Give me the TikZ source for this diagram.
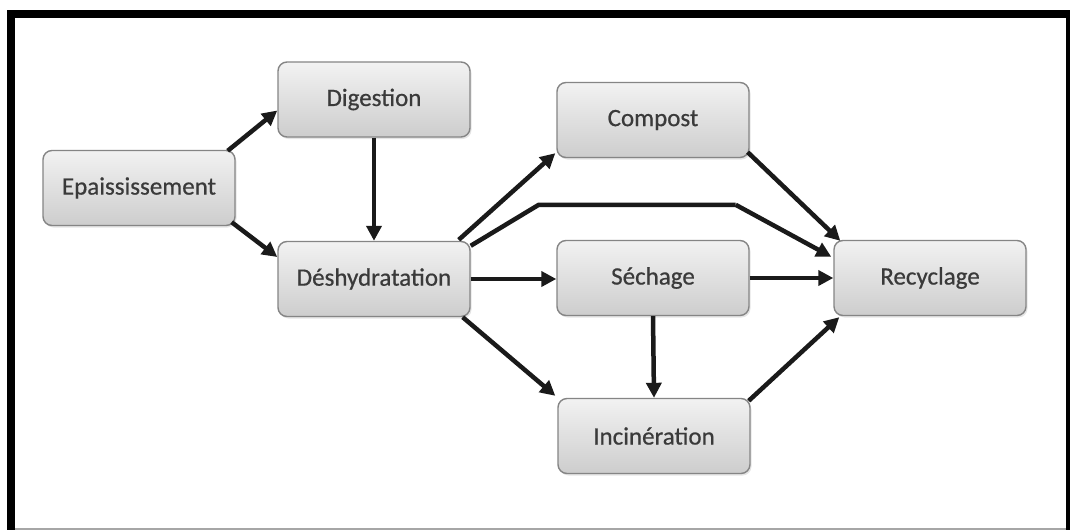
\documentclass[tikz,border=0pt]{standalone}
\usepackage{fontspec}
\setmainfont{Carlito}
\newfontfamily\boxfont[FakeBold=0.6]{Carlito}
\usetikzlibrary{arrows.meta,calc,shadows}
\definecolor{txt}{HTML}{3A3A3A}
\definecolor{arrc}{HTML}{1A1A1A}
\definecolor{boxtop}{HTML}{F2F2F2}
\definecolor{boxbot}{HTML}{CDCDCD}
\definecolor{boxline}{HTML}{858585}
\tikzset{
  procbox/.style={draw=boxline, line width=1.4pt, rounded corners=9pt,
    top color=boxtop, bottom color=boxbot,
    minimum width=192pt, minimum height=75pt, inner sep=0pt,
    text=txt, font=\boxfont\fontsize{25}{30}\selectfont,
    drop shadow={opacity=0.2, shadow xshift=1.5pt, shadow yshift=-2pt}},
  arr/.style={draw=arrc, line width=4.5pt, -{Triangle[length=15pt,width=15pt]}}
}
\begin{document}
\begin{tikzpicture}[x=1pt,y=-1pt]
\useasboundingbox (0,0) rectangle (1070,530);
\fill[white] (0,0) rectangle (1070,530);
\fill[black] (7,10) rectangle (1070,530);
\fill[white] (15,18) rectangle (1066,528);
\fill[gray!70] (15,528) rectangle (1066,530);

\node[procbox] (epa) at (139,188) {Epaississement};
\node[procbox] (dig) at (374,99.5) {Digestion};
\node[procbox] (des) at (374,279) {Déshydratation};
\node[procbox] (com) at (653,120) {Compost};
\node[procbox] (sec) at (653,278) {Séchage};
\node[procbox] (rec) at (930,278) {Recyclage};
\node[procbox] (inc) at (654,436) {Incinération};

\coordinate (b1) at ($(des.north east)+(68,-36)$);
\coordinate (b2) at ($(b1)+(197,0)$);

\draw[arr] ($(epa.north east)+(-8,1)$) -- ($(dig.west)+(0,11)$);
\draw[arr] ($(epa.south east)+(-4,-4)$) -- ($(des.west)+(0,-22)$);
\draw[arr] (dig.south) -- (des.north);
\draw[arr] ($(des.north east)+(-12,-1)$) -- ($(com.south west)+(-1,-5)$);
\draw[arr, -] ($(des.north east)+(0,5)$) -- (b1) -- (b2);
\draw[arr] (b2) -- ($(rec.north west)+(-2,17)$);
\draw[arr] (des.east) -- (des.east -| sec.west);
\draw[arr] (sec.east) -- (sec.east -| rec.west);
\draw[arr] ($(com.south east)+(-2,-6)$) -- ($(rec.north west)+(7,1)$);
\draw[arr] ($(des.south east)+(-8,0)$) -- ($(inc.north west)+(-2,-2)$);
\draw[arr] (sec.south) -- (inc.north);
\draw[arr] ($(inc.north east)+(-2,3)$) -- ($(rec.south west)+(6,1)$);
\end{tikzpicture}
\end{document}
